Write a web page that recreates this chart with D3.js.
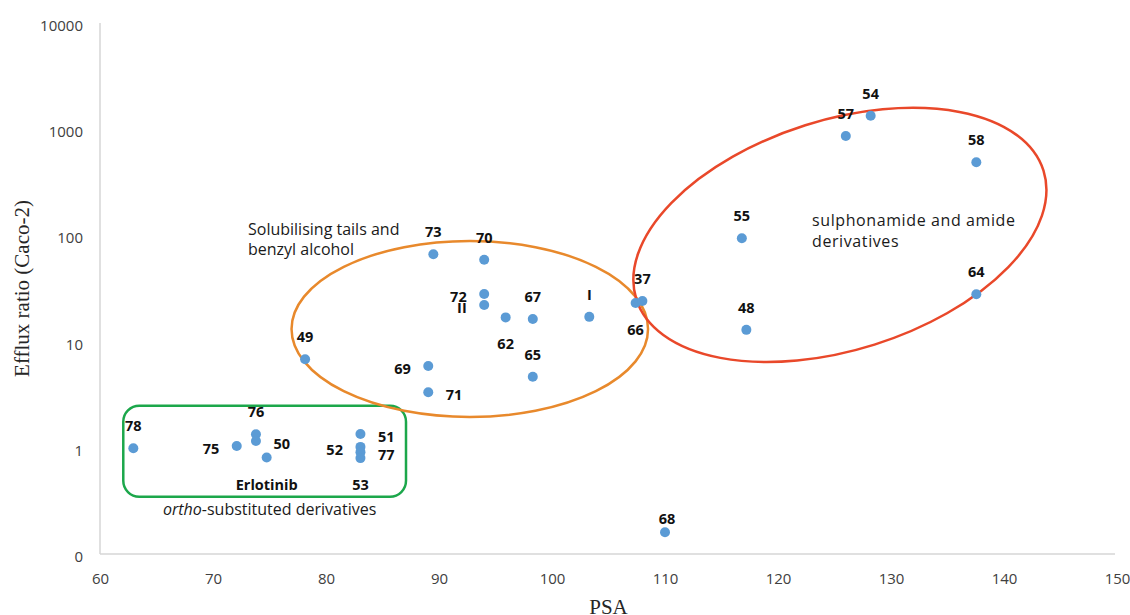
<!DOCTYPE html>
<html>
<head>
<meta charset="utf-8">
<script src="https://cdn.jsdelivr.net/npm/d3@7"></script>
<style>
  html, body { margin: 0; padding: 0; background: #fff; }
  svg { display: block; }
</style>
</head>
<body>
<svg id="chart" width="1130" height="615"></svg>
<script>
// Compound identifiers, polar surface area and Caco-2 efflux ratio
const compounds = ["78","75","76","50","Erlotinib","51","52","77","53",
  "49","69","71","73","70","72","II","62","67","65","I","66","37",
  "68","48","55","57","54","58","64"];
const psa = [62.95,72.1,73.8,73.8,74.75,83.05,83.05,83.05,83.05,
  78.15,89.05,89.05,89.5,94.0,94.0,94.0,95.9,98.3,98.3,103.3,107.4,108.0,
  110.0,117.2,116.8,126.0,128.2,137.55,137.55];
const effluxRatio = [0.99,1.04,1.34,1.16,0.81,1.35,1.02,0.91,0.80,
  6.81,5.89,3.33,66.4,59.0,28.1,22.1,16.9,16.3,4.67,17.1,23.1,24.1,
  0.16,12.9,94,863,1340,488,27.9];

// Axis ticks
const xTicks = [60,70,80,90,100,110,120,130,140,150];
const yTickValues = [0.1,1,10,100,1000,10000];
const yTickLabels = ["0","1","10","100","1000","10000"];

// Where each compound's label sits relative to its dot
const labelSide = {
  "78":"above","75":"left","76":"above","50":"right","Erlotinib":"below",
  "51":"right","52":"left","77":"right","53":"below","49":"above",
  "69":"left","71":"right","73":"above","70":"above","72":"left","II":"left",
  "62":"below","67":"above","65":"above","I":"above","66":"below","37":"above",
  "68":"near","48":"above","55":"above","57":"above","54":"above","58":"above","64":"above"
};
const sideOffset = {
  above: {dx: 0, dy: -17, anchor: "middle"},
  below: {dx: 0, dy: 32, anchor: "middle"},
  left:  {dx: -17.5, dy: 7.8, anchor: "end"},
  right: {dx: 17.5, dy: 8, anchor: "start"},
  near:  {dx: 2, dy: -8, anchor: "middle"}
};

// Group annotations (data coordinates)
const groupBox = {x0: 62.06, x1: 87.08, y0: 0.346, y1: 2.49,
  text: ["ortho", "-substituted derivatives"]};
const groupTails = {x0: 76.95, x1: 108.5, y0: 1.95, y1: 88.5,
  text: ["Solubilising tails and", "benzyl alcohol"]};
const groupAmide = {cx: 125.3, cy: 101,
  text: ["sulphonamide and amide", "derivatives"]};

const svg = d3.select("#chart");
const margin = {left: 100, right: 13, top: 23, bottom: 61};
const W = 1130, H = 615;

const x = d3.scaleLinear().domain([60,150]).range([margin.left, W - margin.right]);
const y = d3.scaleLog().domain([0.1,10000]).range([H - margin.bottom, margin.top]);

const sans = "'Open Sans', 'Noto Sans', sans-serif";
const serif = "'Liberation Serif', 'DejaVu Serif', serif";

// Axis lines
svg.append("line")
  .attr("x1", x(60)).attr("x2", x(60)).attr("y1", y(10000)).attr("y2", y(0.1))
  .attr("stroke", "#d6d6d6").attr("stroke-width", 1.5);
svg.append("line")
  .attr("x1", x(60)).attr("x2", W - 15).attr("y1", y(0.1)).attr("y2", y(0.1))
  .attr("stroke", "#d6d6d6").attr("stroke-width", 1.5);

// Axes (labels only)
const xAxis = svg.append("g")
  .attr("transform", `translate(0,${y(0.1)})`)
  .call(d3.axisBottom(x).tickValues(xTicks).tickSize(0).tickPadding(19).tickFormat(d3.format("d")));
xAxis.select(".domain").remove();
xAxis.selectAll("text").attr("font-family", sans).attr("font-size", 15).attr("fill", "#404040");

const yAxis = svg.append("g")
  .attr("transform", `translate(${x(60)},0)`)
  .call(d3.axisLeft(y).tickValues(yTickValues).tickSize(0).tickPadding(17)
    .tickFormat((d, i) => yTickLabels[i]));
yAxis.select(".domain").remove();
yAxis.selectAll("text").attr("font-family", sans).attr("font-size", 15).attr("fill", "#404040")
  .attr("dy", "0.5em");

// Axis titles
svg.append("text")
  .attr("x", (x(60) + x(150)) / 2).attr("y", 614)
  .attr("text-anchor", "middle")
  .attr("font-family", serif).attr("font-size", 21).attr("fill", "#262626")
  .text("PSA");
svg.append("text")
  .attr("transform", `translate(29,${(y(0.1) + y(10000)) / 2}) rotate(-90)`)
  .attr("text-anchor", "middle")
  .attr("font-family", serif).attr("font-size", 21).attr("fill", "#262626")
  .text("Efflux ratio (Caco-2)");

// Group outlines
const ann = svg.append("g").attr("fill", "none").attr("stroke-width", 2.5);
ann.append("rect")
  .attr("x", x(groupBox.x0)).attr("y", y(groupBox.y1))
  .attr("width", x(groupBox.x1) - x(groupBox.x0))
  .attr("height", y(groupBox.y0) - y(groupBox.y1))
  .attr("rx", 16).attr("ry", 16)
  .attr("stroke", "#1ca74b");
ann.append("ellipse")
  .attr("cx", (x(groupTails.x0) + x(groupTails.x1)) / 2)
  .attr("cy", (y(groupTails.y0) + y(groupTails.y1)) / 2)
  .attr("rx", (x(groupTails.x1) - x(groupTails.x0)) / 2)
  .attr("ry", (y(groupTails.y0) - y(groupTails.y1)) / 2)
  .attr("stroke", "#e8892c");
ann.append("ellipse")
  .attr("transform", `translate(${x(groupAmide.cx) + 2},${y(groupAmide.cy)}) rotate(-17.5)`)
  .attr("rx", 213.5).attr("ry", 115)
  .attr("stroke", "#e9482a");

// Group captions
const caption = svg.append("g").attr("font-family", sans).attr("font-size", 16).attr("fill", "#1a1a1a");
const tailsText = caption.append("text").attr("x", 248).attr("y", 235);
tailsText.append("tspan").text(groupTails.text[0]);
tailsText.append("tspan").attr("x", 248).attr("dy", 20).text(groupTails.text[1]);
const amideText = caption.append("text").attr("x", 812).attr("y", 226)
  .attr("letter-spacing", 0.6);
amideText.append("tspan").text(groupAmide.text[0]);
amideText.append("tspan").attr("x", 812).attr("dy", 21).text(groupAmide.text[1]);
const orthoText = caption.append("text").attr("x", (x(groupBox.x0) + x(groupBox.x1)) / 2 + 5)
  .attr("y", 515).attr("text-anchor", "middle");
orthoText.append("tspan").attr("font-style", "italic").text(groupBox.text[0]);
orthoText.append("tspan").text(groupBox.text[1]);

// Data points
const pts = compounds.map((c, i) => ({name: c, psa: psa[i], er: effluxRatio[i]}));
svg.append("g").selectAll("circle").data(pts).join("circle")
  .attr("cx", d => x(d.psa)).attr("cy", d => y(d.er)).attr("r", 5)
  .attr("fill", "#5b9bd5");

// Compound labels
svg.append("g").selectAll("text").data(pts).join("text")
  .attr("x", d => x(d.psa) + sideOffset[labelSide[d.name]].dx)
  .attr("y", d => y(d.er) + sideOffset[labelSide[d.name]].dy)
  .attr("text-anchor", d => sideOffset[labelSide[d.name]].anchor)
  .attr("font-family", sans).attr("font-weight", "bold").attr("font-size", 14.5)
  .attr("fill", "#111")
  .text(d => d.name);
</script>
</body>
</html>
